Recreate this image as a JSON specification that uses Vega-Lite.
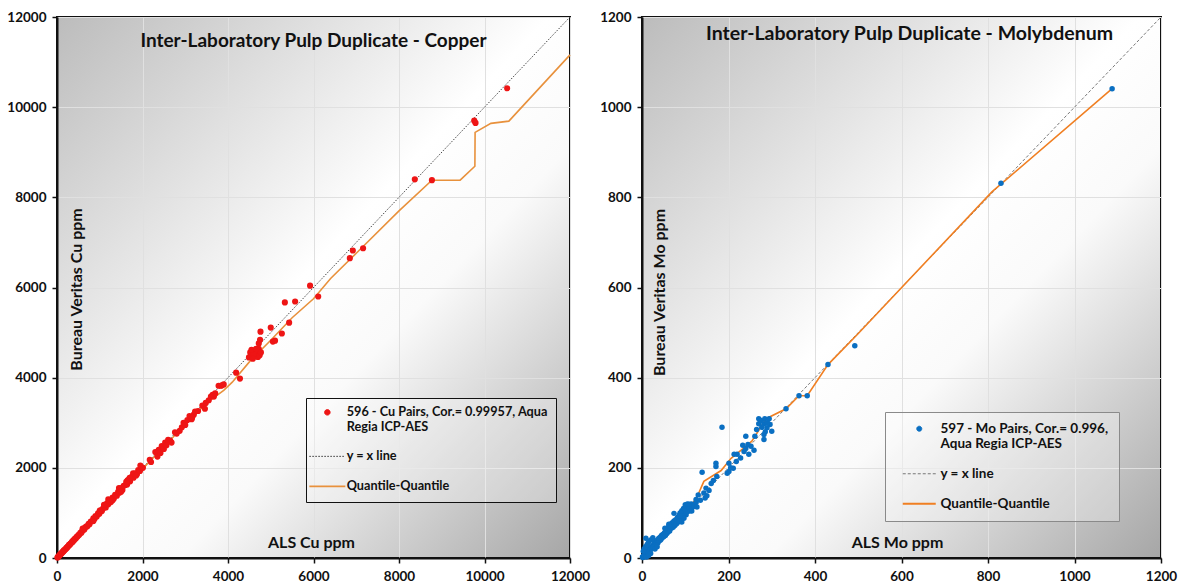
{
  "$schema": "https://vega.github.io/schema/vega-lite/v6.json",
  "padding": {"left": 5, "top": 9, "right": 0, "bottom": 5},
  "background": "white",
  "config": {
    "font": "Lato",
    "axis": {
      "labelFont": "Lato", "labelFontWeight": "bold", "labelFontSize": 13.5, "labelColor": "#111", "format": "d",
      "domainColor": "#111", "domainWidth": 2, "tickColor": "#111", "tickSize": 5, "tickWidth": 1.5,
      "labelPadding": 6, "gridColor": "#e0e0e0", "gridWidth": 1, "labelFlush": false, "labelOverlap": false, "labelBound": false,
      "titleFont": "Lato", "titleFontSize": 16, "titleFontWeight": "bold", "titleColor": "#111"
    },
    "legend": {
      "labelFont": "Lato", "labelFontSize": 12.7, "labelFontWeight": "bold", "labelColor": "#111", "labelLimit": 320
    },
    "view": {"stroke": "#111", "strokeWidth": 2}
  },
  "datasets": {
    "cu_pts": [
      {"x":10,"y":12},{"x":20,"y":18},{"x":30,"y":33},{"x":45,"y":40},{"x":55,"y":60},{"x":70,"y":68},{"x":80,"y":85},{"x":95,"y":90},
      {"x":110,"y":115},{"x":120,"y":118},{"x":135,"y":140},{"x":150,"y":145},{"x":160,"y":168},{"x":175,"y":170},{"x":190,"y":195},{"x":205,"y":200},
      {"x":220,"y":228},{"x":235,"y":230},{"x":250,"y":255},{"x":265,"y":260},{"x":280,"y":290},{"x":300,"y":295},{"x":315,"y":320},{"x":330,"y":325},
      {"x":350,"y":360},{"x":365,"y":355},{"x":380,"y":390},{"x":400,"y":395},{"x":420,"y":430},{"x":440,"y":432},{"x":460,"y":470},{"x":480,"y":475},
      {"x":500,"y":510},{"x":520,"y":515},{"x":545,"y":560},{"x":570,"y":560},{"x":590,"y":600},{"x":610,"y":625},{"x":640,"y":630},{"x":660,"y":680},
      {"x":690,"y":700},{"x":710,"y":705},{"x":740,"y":760},{"x":760,"y":750},{"x":790,"y":810},{"x":820,"y":815},{"x":850,"y":880},{"x":880,"y":870},
      {"x":900,"y":930},{"x":930,"y":920},{"x":960,"y":990},{"x":990,"y":980},{"x":1020,"y":1060},{"x":1050,"y":1040},{"x":1080,"y":1100},{"x":1110,"y":1130},
      {"x":1140,"y":1120},{"x":1170,"y":1210},{"x":1200,"y":1190},{"x":1230,"y":1260},{"x":1260,"y":1240},{"x":1300,"y":1340},{"x":1330,"y":1320},{"x":1360,"y":1400},
      {"x":1400,"y":1380},{"x":1430,"y":1470},{"x":1460,"y":1450},{"x":1500,"y":1550},{"x":1530,"y":1510},{"x":1560,"y":1600},{"x":1600,"y":1620},{"x":1640,"y":1630},
      {"x":1680,"y":1740},{"x":1710,"y":1700},{"x":1750,"y":1800},{"x":1790,"y":1780},{"x":1830,"y":1880},{"x":1870,"y":1860},{"x":1900,"y":1950},{"x":1940,"y":1930},
      {"x":1980,"y":2010},{"x":2010,"y":2000},{"x":1200,"y":1300},{"x":1450,"y":1550},{"x":1650,"y":1720},{"x":1780,"y":1880},{"x":1100,"y":1180},{"x":1500,"y":1470},
      {"x":1620,"y":1690},{"x":1850,"y":1830},{"x":600,"y":650},{"x":850,"y":820},{"x":1000,"y":1050},{"x":1300,"y":1280},{"x":1700,"y":1780},{"x":1950,"y":2050},
      {"x":2200,"y":2130},{"x":2170,"y":2180},{"x":2300,"y":2350},{"x":2350,"y":2250},{"x":2380,"y":2400},{"x":2420,"y":2330},{"x":2450,"y":2480},{"x":2500,"y":2420},
      {"x":2530,"y":2560},{"x":2560,"y":2500},{"x":2600,"y":2620},{"x":2650,"y":2600},{"x":2680,"y":2560},{"x":2760,"y":2790},{"x":2800,"y":2760},{"x":2870,"y":2820},
      {"x":2920,"y":2900},{"x":2960,"y":3000},{"x":3000,"y":2950},{"x":3050,"y":3060},{"x":3100,"y":3150},{"x":3150,"y":3080},{"x":3200,"y":3180},{"x":3230,"y":3250},
      {"x":3160,"y":3110},{"x":3300,"y":3260},{"x":3400,"y":3380},{"x":3460,"y":3310},{"x":3480,"y":3440},{"x":3550,"y":3500},{"x":3600,"y":3580},{"x":3670,"y":3580},
      {"x":3640,"y":3620},{"x":3700,"y":3650},{"x":3780,"y":3820},{"x":3830,"y":3820},{"x":3860,"y":3830},{"x":3900,"y":3850},
      {"x":4190,"y":4110},{"x":4280,"y":3980},{"x":4490,"y":4450},{"x":4520,"y":4560},{"x":4560,"y":4500},{"x":4600,"y":4600},{"x":4620,"y":4470},{"x":4650,"y":4520},
      {"x":4680,"y":4580},{"x":4700,"y":4460},{"x":4720,"y":4640},{"x":4740,"y":4500},{"x":4770,"y":4560},{"x":4600,"y":4520},{"x":4550,"y":4620},{"x":4660,"y":4640},
      {"x":4750,"y":4840},{"x":4760,"y":5020},{"x":5000,"y":5110},{"x":5050,"y":4800},{"x":5100,"y":4820},{"x":5260,"y":4980},{"x":5430,"y":5220},{"x":5330,"y":5670},
      {"x":5570,"y":5690},{"x":5920,"y":6040},{"x":6110,"y":5800},{"x":4720,"y":4760},{"x":4580,"y":4420},
      {"x":6850,"y":6650},{"x":6920,"y":6820},{"x":7160,"y":6870},{"x":8370,"y":8400},{"x":8770,"y":8380},{"x":9760,"y":9700},{"x":9790,"y":9650},{"x":10530,"y":10420}
    ],
    "cu_yx": [{"x":0,"y":0},{"x":12000,"y":12000}],
    "cu_qq": [
      {"x":0,"y":0},{"x":1000,"y":990},{"x":2000,"y":1975},{"x":3000,"y":2960},{"x":3500,"y":3440},{"x":3900,"y":3720},{"x":4100,"y":3900},
      {"x":4500,"y":4350},{"x":5000,"y":4830},{"x":5500,"y":5330},{"x":6000,"y":5750},{"x":6400,"y":6200},{"x":7000,"y":6760},{"x":8000,"y":7700},
      {"x":8770,"y":8380},{"x":9430,"y":8380},{"x":9775,"y":8690},{"x":9780,"y":9440},{"x":10150,"y":9640},{"x":10570,"y":9690},{"x":12000,"y":11160}
    ],
    "mo_pts": [
      {"x":1,"y":2},{"x":2,"y":1},{"x":3,"y":4},{"x":4,"y":3},{"x":5,"y":6},{"x":6,"y":5},{"x":7,"y":9},{"x":8,"y":6},{"x":9,"y":10},{"x":10,"y":8},
      {"x":11,"y":14},{"x":12,"y":11},{"x":13,"y":15},{"x":14,"y":12},{"x":15,"y":18},{"x":16,"y":14},{"x":17,"y":20},{"x":18,"y":16},{"x":19,"y":22},{"x":20,"y":19},
      {"x":22,"y":25},{"x":23,"y":21},{"x":25,"y":28},{"x":26,"y":24},{"x":28,"y":32},{"x":29,"y":27},{"x":30,"y":35},{"x":31,"y":29},{"x":33,"y":38},{"x":34,"y":31},
      {"x":36,"y":40},{"x":37,"y":34},{"x":39,"y":43},{"x":40,"y":38},{"x":42,"y":46},{"x":43,"y":40},{"x":45,"y":50},{"x":46,"y":44},{"x":48,"y":52},{"x":50,"y":47},
      {"x":52,"y":56},{"x":54,"y":50},{"x":55,"y":60},{"x":57,"y":54},{"x":59,"y":62},{"x":60,"y":57},{"x":5,"y":20},{"x":8,"y":25},{"x":12,"y":30},{"x":15,"y":35},
      {"x":20,"y":40},{"x":25,"y":45},{"x":10,"y":2},{"x":20,"y":10},{"x":30,"y":20},{"x":35,"y":25},{"x":15,"y":5},{"x":3,"y":15},{"x":9,"y":44},{"x":39,"y":44},
      {"x":62,"y":70},{"x":64,"y":60},{"x":66,"y":75},{"x":68,"y":66},{"x":70,"y":78},{"x":72,"y":68},{"x":74,"y":82},{"x":76,"y":72},{"x":78,"y":85},{"x":80,"y":76},
      {"x":82,"y":90},{"x":84,"y":80},{"x":86,"y":95},{"x":88,"y":100},{"x":90,"y":86},{"x":92,"y":105},{"x":94,"y":98},{"x":96,"y":110},{"x":98,"y":100},{"x":100,"y":108},
      {"x":102,"y":96},{"x":104,"y":115},{"x":106,"y":103},{"x":108,"y":118},{"x":110,"y":110},{"x":112,"y":105},{"x":114,"y":120},{"x":116,"y":112},{"x":118,"y":118},{"x":120,"y":115},
      {"x":125,"y":123},{"x":127,"y":113},{"x":125,"y":130},{"x":109,"y":119},{"x":74,"y":99},{"x":62,"y":75},{"x":53,"y":66},{"x":86,"y":82},{"x":90,"y":100},{"x":95,"y":92},
      {"x":100,"y":118},{"x":105,"y":120},{"x":115,"y":104},{"x":97,"y":88},{"x":92,"y":80},{"x":88,"y":93},
      {"x":139,"y":190},{"x":143,"y":144},{"x":146,"y":133},{"x":148,"y":155},{"x":150,"y":138},{"x":171,"y":210},{"x":171,"y":203},{"x":173,"y":181},{"x":185,"y":290},
      {"x":197,"y":188},{"x":201,"y":210},{"x":201,"y":192},{"x":211,"y":199},{"x":213,"y":230},{"x":220,"y":230},{"x":233,"y":250},{"x":240,"y":243},{"x":240,"y":270},
      {"x":247,"y":230},{"x":252,"y":248},{"x":259,"y":239},{"x":261,"y":270},{"x":270,"y":309},{"x":284,"y":309},{"x":294,"y":309},{"x":270,"y":298},{"x":282,"y":298},
      {"x":296,"y":296},{"x":277,"y":290},{"x":289,"y":289},{"x":300,"y":281},{"x":282,"y":274},{"x":282,"y":263},{"x":333,"y":331},{"x":363,"y":360},{"x":382,"y":360},
      {"x":430,"y":429},{"x":492,"y":471},{"x":830,"y":831},{"x":1087,"y":1041},{"x":160,"y":165},{"x":165,"y":172},{"x":135,"y":128},{"x":130,"y":140},{"x":155,"y":150},
      {"x":228,"y":222},{"x":218,"y":214},{"x":205,"y":200},{"x":236,"y":236},{"x":245,"y":252},{"x":265,"y":285},{"x":275,"y":305},{"x":290,"y":300},{"x":285,"y":280}
    ],
    "mo_yx": [{"x":0,"y":0},{"x":1200,"y":1200}],
    "mo_qq": [
      {"x":0,"y":0},{"x":20,"y":20},{"x":50,"y":52},{"x":80,"y":85},{"x":100,"y":106},{"x":125,"y":130},{"x":143,"y":170},{"x":183,"y":194},{"x":206,"y":221},
      {"x":230,"y":240},{"x":254,"y":259},{"x":287,"y":309},{"x":333,"y":331},{"x":363,"y":360},{"x":382,"y":360},{"x":430,"y":429},{"x":499,"y":497},
      {"x":809,"y":812},{"x":1087,"y":1041}
    ]
  },
  "spacing": 72,
  "bounds": "flush",
  "resolve": {"scale": {"color": "independent"}, "legend": {"color": "independent"}},
  "hconcat": [
    {
      "width": 513, "height": 541,
      "view": {"stroke": "#111", "strokeWidth": 2, "fill": {"gradient": "linear", "x1": 0, "y1": 0, "x2": 1, "y2": 1, "stops": [{"offset": 0, "color": "#bcbcbc"}, {"offset": 0.48, "color": "#ffffff"}, {"offset": 0.62, "color": "#fafafa"}, {"offset": 1, "color": "#a6a6a6"}]}},
      "title": {"text": "Inter-Laboratory Pulp Duplicate - Copper", "frame": "group", "offset": -41, "anchor": "middle", "fontSize": 19, "fontWeight": "bold", "font": "Lato", "color": "#111"},
      "encoding": {
        "x": {"field": "x", "type": "quantitative", "scale": {"domain": [0, 12000], "nice": false},
              "axis": {"values": [0, 2000, 4000, 6000, 8000, 10000, 12000], "title": "ALS Cu  ppm", "titleX": 254, "titleY": -16, "titleAlign": "center", "titleBaseline": "middle", "titleAnchor": null}},
        "y": {"field": "y", "type": "quantitative", "scale": {"domain": [0, 12000], "nice": false},
              "axis": {"values": [0, 2000, 4000, 6000, 8000, 10000, 12000], "title": "Bureau Veritas Cu ppm", "titleX": 19, "titleY": 272, "titleAngle": -90, "titleAlign": "center", "titleBaseline": "middle", "titleAnchor": null}}
      },
      "layer": [
        {
          "data": {"name": "cu_yx"},
          "mark": {"type": "line", "strokeDash": [1.5, 1.5], "strokeWidth": 0.9},
          "encoding": {"color": {"datum": "yx",
              "scale": {"domain": ["pairs", "yx", "qq"], "range": ["#ee1515", "#333333", "#e8913c"]},
              "legend": {
                "orient": "none", "legendX": 249, "legendY": 381, "title": null, "direction": "vertical",
                "labelExpr": "datum.value === 'pairs' ? ['596 - Cu Pairs, Cor.= 0.99957, Aqua', 'Regia ICP-AES'] : datum.value === 'yx' ? 'y = x line' : 'Quantile-Quantile'",
                "symbolSize": 256, "symbolType": "circle", "symbolOffset": 7, "rowPadding": 16, "labelOffset": 13, "padding": 8,
                "strokeColor": "#111", "fillColor": "rgba(255,255,255,0.3)",
                "encode": {"symbols": {"update": {
                  "shape": {"signal": "datum.value === 'pairs' ? 'circle' : 'stroke'"},
                  "size": {"signal": "datum.value === 'pairs' ? 30 : 1296"},
                  "fill": {"signal": "datum.value === 'pairs' ? '#ee1515' : 'transparent'"},
                  "stroke": {"signal": "datum.value === 'pairs' ? '#ee1515' : datum.value === 'yx' ? '#444444' : '#e8913c'"},
                  "strokeWidth": {"signal": "datum.value === 'qq' ? 1.6 : 1"},
                  "strokeDash": {"signal": "datum.value === 'yx' ? [1.5, 1.5] : [1, 0]"},
                  "opacity": {"value": 1}
                }}}
              }
          }}
        },
        {
          "data": {"name": "cu_qq"},
          "mark": {"type": "line", "strokeWidth": 1.6},
          "encoding": {"color": {"datum": "qq"}}
        },
        {
          "data": {"name": "cu_pts"},
          "mark": {"type": "circle", "size": 38, "opacity": 1},
          "encoding": {"color": {"datum": "pairs"}}
        }
      ]
    },
    {
      "width": 519, "height": 541,
      "view": {"stroke": "#111", "strokeWidth": 2, "fill": {"gradient": "linear", "x1": 0, "y1": 0, "x2": 1, "y2": 1, "stops": [{"offset": 0, "color": "#bcbcbc"}, {"offset": 0.48, "color": "#ffffff"}, {"offset": 0.62, "color": "#fafafa"}, {"offset": 1, "color": "#a6a6a6"}]}},
      "title": {"text": "Inter-Laboratory Pulp Duplicate - Molybdenum", "frame": "group", "offset": -34, "anchor": "middle", "dx": 8, "fontSize": 19.5, "fontWeight": "bold", "font": "Lato", "color": "#111"},
      "encoding": {
        "x": {"field": "x", "type": "quantitative", "scale": {"domain": [0, 1200], "nice": false},
              "axis": {"values": [0, 200, 400, 600, 800, 1000, 1200], "title": "ALS Mo  ppm", "titleX": 255, "titleY": -16, "titleAlign": "center", "titleBaseline": "middle", "titleAnchor": null}},
        "y": {"field": "y", "type": "quantitative", "scale": {"domain": [0, 1200], "nice": false},
              "axis": {"values": [0, 200, 400, 600, 800, 1000, 1200], "title": "Bureau Veritas Mo ppm", "titleX": 17, "titleY": 275, "titleAngle": -90, "titleAlign": "center", "titleBaseline": "middle", "titleAnchor": null}}
      },
      "layer": [
        {
          "data": {"name": "mo_yx"},
          "mark": {"type": "line", "strokeDash": [3, 2], "strokeWidth": 1},
          "encoding": {"color": {"datum": "yx",
              "scale": {"domain": ["pairs", "yx", "qq"], "range": ["#0a6fc2", "#777777", "#f07f22"]},
              "legend": {
                "orient": "none", "legendX": 243, "legendY": 395, "title": null, "direction": "vertical",
                "labelExpr": "datum.value === 'pairs' ? ['597 - Mo Pairs, Cor.= 0.996,', 'Aqua Regia ICP-AES'] : datum.value === 'yx' ? 'y = x line' : 'Quantile-Quantile'",
                "symbolSize": 256, "symbolType": "circle", "symbolOffset": 17.5, "rowPadding": 15, "labelOffset": 14.5, "padding": 10, "labelFontSize": 13.5,
                "strokeColor": "#8a8a8a", "fillColor": "rgba(255,255,255,0.3)",
                "encode": {"symbols": {"update": {
                  "shape": {"signal": "datum.value === 'pairs' ? 'circle' : 'stroke'"},
                  "size": {"signal": "datum.value === 'pairs' ? 25 : 1089"},
                  "fill": {"signal": "datum.value === 'pairs' ? '#0a6fc2' : 'transparent'"},
                  "stroke": {"signal": "datum.value === 'pairs' ? '#0a6fc2' : datum.value === 'yx' ? '#777777' : '#f07f22'"},
                  "strokeWidth": {"signal": "datum.value === 'qq' ? 1.8 : 1"},
                  "strokeDash": {"signal": "datum.value === 'yx' ? [3, 2] : [1, 0]"},
                  "opacity": {"value": 1}
                }}}
              }
          }}
        },
        {
          "data": {"name": "mo_qq"},
          "mark": {"type": "line", "strokeWidth": 1.6},
          "encoding": {"color": {"datum": "qq"}}
        },
        {
          "data": {"name": "mo_pts"},
          "mark": {"type": "circle", "size": 30, "opacity": 1},
          "encoding": {"color": {"datum": "pairs"}}
        }
      ]
    }
  ]
}
